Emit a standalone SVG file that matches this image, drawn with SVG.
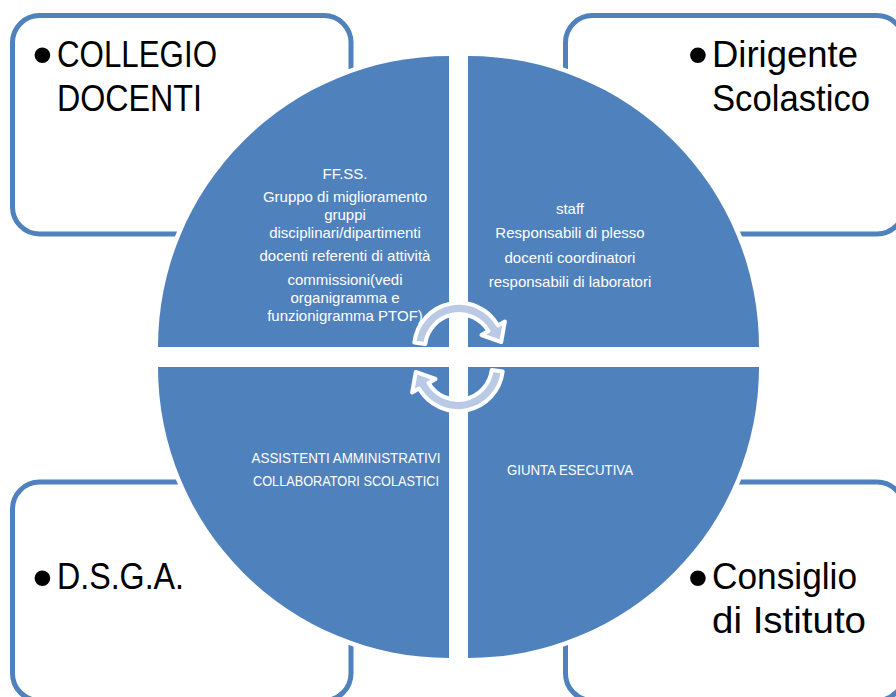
<svg xmlns="http://www.w3.org/2000/svg" width="896" height="697" viewBox="0 0 896 697">
<style>
.box{fill:#fff;stroke:#4F81BD;stroke-width:5}
.big{font-family:"Liberation Sans",Arial,sans-serif;font-size:36px;fill:#000}
.bul{font-family:"Liberation Sans",Arial,sans-serif;font-size:58px;fill:#000;text-anchor:middle}
.q{fill:#4F81BD;stroke:#fff;stroke-width:9;paint-order:stroke}
.sm{font-family:"Liberation Sans",Arial,sans-serif;font-size:15px;fill:#fff;text-anchor:middle}
.arr{fill:#BACAE4;stroke:#fff;stroke-width:4;stroke-linejoin:round}
</style>
<rect width="896" height="697" fill="#fff"/>
<g id="box-collegio">
<rect class="box" x="12.5" y="15.5" width="338.5" height="218.5" rx="27"/>
<text class="bul" x="42.5" y="74">•</text>
<text class="big" x="57" y="67" textLength="160" lengthAdjust="spacingAndGlyphs">COLLEGIO</text>
<text class="big" x="57" y="111" textLength="145" lengthAdjust="spacingAndGlyphs">DOCENTI</text>
</g>
<g id="box-dirigente">
<rect class="box" x="565.5" y="15.5" width="338.5" height="218.5" rx="27"/>
<text class="bul" x="698" y="74">•</text>
<text class="big" x="712" y="67" textLength="146" lengthAdjust="spacingAndGlyphs">Dirigente</text>
<text class="big" x="712" y="111" textLength="158" lengthAdjust="spacingAndGlyphs">Scolastico</text>
</g>
<g id="box-dsga">
<rect class="box" x="12.5" y="482" width="338.5" height="218.5" rx="27"/>
<text class="bul" x="42.5" y="597">•</text>
<text class="big" x="57" y="589" textLength="127" lengthAdjust="spacingAndGlyphs">D.S.G.A.</text>
</g>
<g id="box-consiglio">
<rect class="box" x="565.5" y="482" width="338.5" height="218.5" rx="27"/>
<text class="bul" x="698" y="597">•</text>
<text class="big" x="712" y="589" textLength="145" lengthAdjust="spacingAndGlyphs">Consiglio</text>
<text class="big" x="712" y="633" textLength="154" lengthAdjust="spacingAndGlyphs">di Istituto</text>
</g>
<g id="quad-tl">
<path class="q" d="M449,347 L158,347 A291,291 0 0 1 449,56 Z"/>
<text class="sm" x="345" y="179">FF.SS.</text>
<text class="sm" x="345" y="202">Gruppo di miglioramento</text>
<text class="sm" x="345" y="220">gruppi</text>
<text class="sm" x="345" y="238">disciplinari/dipartimenti</text>
<text class="sm" x="345" y="261">docenti referenti di attività</text>
<text class="sm" x="345" y="285">commissioni(vedi</text>
<text class="sm" x="345" y="303">organigramma e</text>
<text class="sm" x="345" y="321">funzionigramma PTOF)</text>
</g>
<g id="quad-tr">
<path class="q" d="M468,347 L468,56 A291,291 0 0 1 759,347 Z"/>
<text class="sm" x="570" y="214">staff</text>
<text class="sm" x="570" y="238">Responsabili di plesso</text>
<text class="sm" x="570" y="263">docenti coordinatori</text>
<text class="sm" x="570" y="287">responsabili di laboratori</text>
</g>
<g id="quad-bl">
<path class="q" d="M449,367 L449,658 A291,291 0 0 1 158,367 Z"/>
<text class="sm" x="346" y="463" textLength="189" lengthAdjust="spacingAndGlyphs">ASSISTENTI AMMINISTRATIVI</text>
<text class="sm" x="346" y="486" textLength="186" lengthAdjust="spacingAndGlyphs">COLLABORATORI SCOLASTICI</text>
</g>
<g id="quad-br">
<path class="q" d="M468,367 L759,367 A291,291 0 0 1 468,658 Z"/>
<text class="sm" x="570" y="475" textLength="126" lengthAdjust="spacingAndGlyphs">GIUNTA ESECUTIVA</text>
</g>
<g id="connectors">
<path id="arrow-top" class="arr" d="M414.3,342.5 A45,45 0 0 1 498,325.5 L504.9,321.5 L501.2,342.1 L481.5,335 L488.4,331 A34,34 0 0 0 425.3,343.9 Z"/>
<path id="arrow-bottom" class="arr" transform="rotate(180 458.5 357)" d="M414.3,342.5 A45,45 0 0 1 498,325.5 L504.9,321.5 L501.2,342.1 L481.5,335 L488.4,331 A34,34 0 0 0 425.3,343.9 Z"/>
</g>
</svg>
